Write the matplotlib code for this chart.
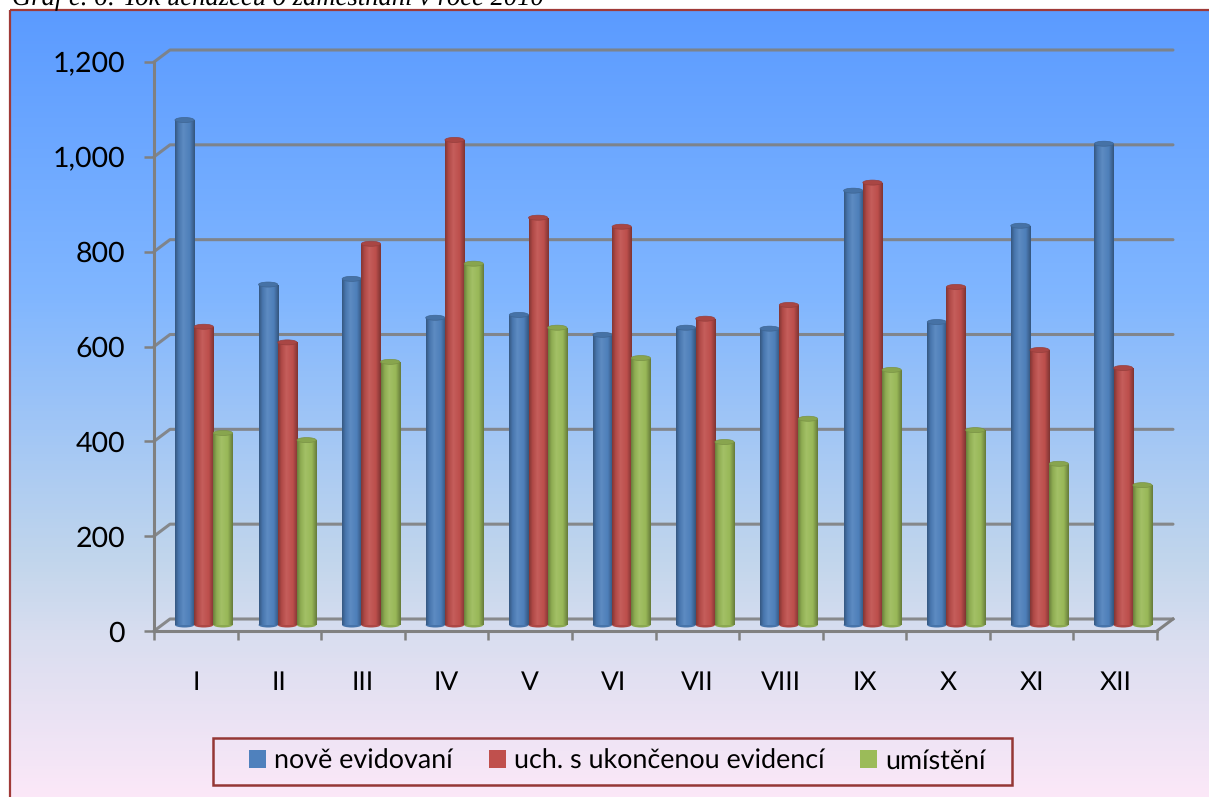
import numpy as np
import matplotlib
matplotlib.use("Agg")
import matplotlib.pyplot as plt
from matplotlib.colors import LinearSegmentedColormap, to_rgb
from matplotlib.patches import Ellipse, Patch, Rectangle

W, H = 1209, 797

months = ["I", "II", "III", "IV", "V", "VI", "VII", "VIII", "IX", "X", "XI", "XII"]
nove = [1065, 718, 730, 648, 654, 612, 627, 625, 916, 639, 842, 1015]
ukoncene = [629, 596, 804, 1023, 859, 840, 646, 675, 933, 713, 580, 542]
umisteni = [405, 390, 555, 762, 627, 563, 386, 435, 538, 411, 340, 295]

series_names = ["nově evidovaní", "uch. s ukončenou evidencí", "umístění"]
series_colors = ["#4F81BD", "#C0504D", "#9BBB59"]
y_ticks = [0, 200, 400, 600, 800, 1000, 1200]

plt.rcParams["font.family"] = ["Lato", "DejaVu Sans"]
plt.rcParams["text.hinting"] = "none"

fig = plt.figure(figsize=(W / 100, H / 100), dpi=100)

# page background with the gradient frame
bg = fig.add_axes([0, 0, 1, 1], zorder=0)
grad = LinearSegmentedColormap.from_list("bg", [
    (0.0, "#5B9BFF"),
    (0.36, "#80B6FF"),
    (0.70, "#C2D6EC"),
    (0.80, "#DADEF0"),
    (1.0, "#FCE8F8"),
])
bg.imshow(np.linspace(0, 1, 256).reshape(-1, 1), cmap=grad, aspect="auto",
          extent=[10, W + 5, H + 3, 10], zorder=1)
bg.add_patch(Rectangle((10, 10), W, H, fill=False, ec="#A03A38", lw=1.6, zorder=2))
# legend box is drawn here so the entries can be placed on their own
bg.add_patch(Rectangle((213, 738), 799, 47, fill=False, ec="#953735", lw=1.8, zorder=2))
bg.set_xlim(0, W)
bg.set_ylim(H, 0)
bg.axis("off")
fig.text(12 / W, 1 - 5 / H, "Graf č. 6: Tok uchazečů o zaměstnání v roce 2010",
         family="Liberation Serif", style="italic", fontsize=19.2, color="black",
         ha="left", va="baseline")

# plot axes sit on the front plane of the fake 3D box
ax = fig.add_axes([154 / W, 1 - 631 / H, (1157 - 154) / W, 569 / H], zorder=1)
ax.patch.set_alpha(0)

depth_x = 16 / 83.6  # box depth in data units
depth_y = 12 / 0.474
grid_color = "#808080"

for v in y_ticks:
    ax.plot([0, depth_x, 12 + depth_x], [v, v + depth_y, v + depth_y],
            color=grid_color, lw=2.2, alpha=0.9, clip_on=False, zorder=1,
            solid_capstyle="round")
ax.plot([12, 12 + depth_x], [0, depth_y], color=grid_color, lw=2.2, clip_on=False, zorder=1)

for sp in ["top", "right"]:
    ax.spines[sp].set_visible(False)
for sp in ["left", "bottom"]:
    ax.spines[sp].set_color(grid_color)
    ax.spines[sp].set_linewidth(2.2)
    ax.spines[sp].set_zorder(1)

ax.set_yticks(y_ticks)
ax.set_yticklabels(["0", "200", "400", "600", "800", "1,000", "1,200"])
ax.tick_params(axis="y", length=7, width=1.8, color=grid_color, labelsize=20.5, pad=14)
ax.set_xticks(np.arange(13))
ax.set_xticklabels([])
ax.set_xticks(np.arange(12) + 0.5, minor=True)
ax.set_xticklabels(months, minor=True)
ax.tick_params(axis="x", which="major", length=6.5, width=1.8, color=grid_color)
ax.tick_params(axis="x", which="minor", length=0, labelsize=19, pad=28.5)

bar_w = 0.23
offsets = [-0.23, 0.0, 0.23]
base = depth_y / 2
x = np.arange(12) + 0.5 + depth_x / 2
cap_h = 5 / 0.474


def shade(color, f):
    c = np.array(to_rgb(color))
    return c * f if f <= 1 else c + (1 - c) * (f - 1)


for i, vals in enumerate([nove, ukoncene, umisteni]):
    color = series_colors[i]
    bars = ax.bar(x + offsets[i], vals, bar_w, bottom=base, color=color, zorder=3 + i)
    cyl = LinearSegmentedColormap.from_list("cyl", [
        (0.0, shade(color, 0.68)), (0.18, shade(color, 0.92)), (0.42, shade(color, 1.08)),
        (0.75, shade(color, 0.98)), (1.0, shade(color, 0.66))])
    for b in bars:
        x0, w, top = b.get_x(), b.get_width(), b.get_y() + b.get_height()
        # round foot and round cap
        ax.add_patch(Ellipse((x0 + w / 2, base), w, cap_h, fc=shade(color, 0.9),
                             ec="none", zorder=3 + i))
        im = ax.imshow(np.linspace(0, 1, 64).reshape(1, -1), cmap=cyl, aspect="auto",
                       extent=[x0, x0 + w, base, top], zorder=3 + i + 0.1)
        im.set_clip_path(b)
        ax.add_patch(Ellipse((x0 + w / 2, top), w, cap_h, fc=shade(color, 0.88),
                             ec=shade(color, 0.78), lw=0.5, zorder=3 + i + 0.2))
ax.set_xlim(0, 12)
ax.set_ylim(0, 1200)

handles = [Patch(fc=c, ec="none") for c in series_colors]
fig.legend(handles, series_names, ncol=3, loc="center left",
           bbox_to_anchor=(249 / W, 1 - 761 / H),
           fontsize=19.4, frameon=False, borderaxespad=0, borderpad=0,
           handlelength=0.63, handleheight=0.63, handletextpad=0.3, columnspacing=1.33)

fig.savefig("out.png", dpi=100)
